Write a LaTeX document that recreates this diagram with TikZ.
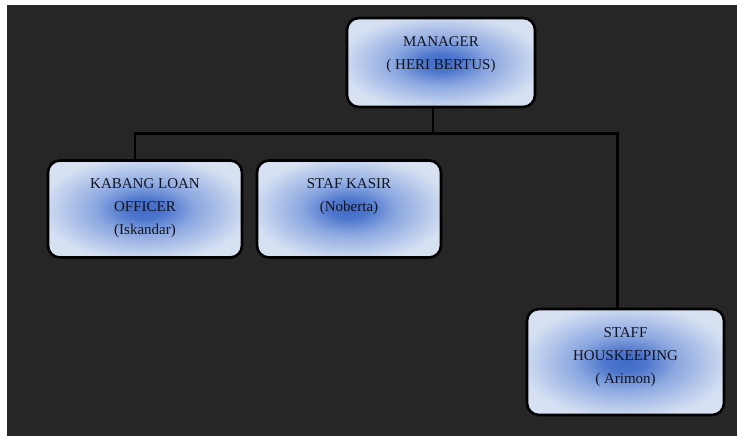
\documentclass[tikz,border=0pt]{standalone}
\usepackage{fontspec}
\setmainfont{Liberation Serif}

\definecolor{bgdark}{RGB}{38,38,38}
\definecolor{inktext}{RGB}{20,20,30}
\pgfdeclareradialshading{boxglow}{\pgfpoint{0bp}{0bp}}{%
  rgb(0bp)=(0.25,0.42,0.78);
  rgb(5bp)=(0.30,0.46,0.80);
  rgb(13bp)=(0.55,0.66,0.88);
  rgb(27bp)=(0.84,0.88,0.95);
  rgb(50bp)=(0.85,0.89,0.95)}

\tikzset{
  card/.style={rounded corners=12pt, draw=black, line width=2.6pt,
    shading=boxglow, inner sep=0pt},
  cardtext/.style={anchor=north, align=center, inner sep=0pt,
    text=inktext, font=\fontsize{15}{23}\selectfont},
  link/.style={draw=black, line width=2.8pt}
}

\begin{document}
\begin{tikzpicture}[x=1pt,y=-1pt]

  \useasboundingbox (0,0) rectangle (737,436);
  \fill[bgdark] (7,5) rectangle (737,436);

  % boxes
  \node[card, minimum width=188pt, minimum height=89pt] (manager) at (441,62.5) {};
  \node[card, minimum width=194pt, minimum height=97pt] (kabang) at (145,209) {};
  \node[card, minimum width=184pt, minimum height=97pt] (kasir) at (349,209) {};
  \node[card, minimum width=197pt, minimum height=106pt] (housekeeping) at (625.5,362) {};

  % texts
  \node[cardtext] (managertext) at ([yshift=-20pt]manager.north) {MANAGER\\( HERI BERTUS)};
  \node[cardtext] (kabangtext) at ([yshift=-19pt]kabang.north) {KABANG LOAN\\OFFICER\\(Iskandar)};
  \node[cardtext] (kasirtext) at ([yshift=-19pt]kasir.north) {STAF KASIR\\(Noberta)};
  \node[cardtext] (housekeepingtext) at ([yshift=-20pt]housekeeping.north) {STAFF\\HOUSKEEPING\\( Arimon)};

  % connectors
  \coordinate (bus) at (433,133.5);
  \draw[link] (manager.south -| bus) -- (bus);
  \draw[link] ([xshift=-10pt]kabang.north) |- (bus) -| ([xshift=-8pt]housekeeping.north);

\end{tikzpicture}
\end{document}
